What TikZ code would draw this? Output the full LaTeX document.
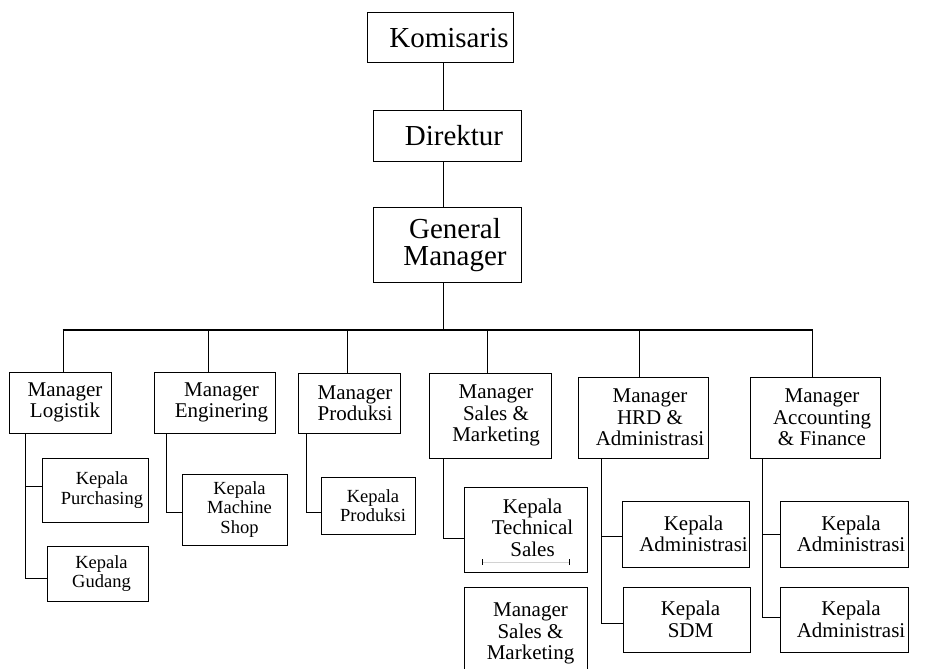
\documentclass[tikz,border=0pt]{standalone}
\usepackage{fontspec}
\setmainfont{Liberation Serif}
\begin{document}
\begin{tikzpicture}[x=1pt,y=-1pt,
  box/.style={draw,line width=1pt,inner sep=0pt},
  lbl/.style={align=center,inner sep=0pt},
  ftop/.style={font=\fontsize{29}{27}\selectfont},
  fmgr/.style={font=\fontsize{21}{21.5}\selectfont},
  fsml/.style={font=\fontsize{18.5}{19.5}\selectfont},
  conn/.style={line width=1pt},
  busline/.style={line width=2.8pt},
]
\useasboundingbox (0,0) rectangle (926,669);
\clip (0,0) rectangle (926,669);

% top chain
\node[box,minimum width=146pt,minimum height=50pt] (kom) at (440,38) {};
\node[lbl,ftop] (kom-t) at ([xshift=9pt]kom.center) {Komisaris};
\node[box,minimum width=148pt,minimum height=51pt] (dir) at (447,135.5) {};
\node[lbl,ftop] (dir-t) at ([xshift=7pt]dir.center) {Direktur};
\node[box,minimum width=148pt,minimum height=75pt] (gm) at (447,244.5) {};
\node[lbl,ftop] (gm-t) at ([xshift=8pt,yshift=-1pt]gm.center) {General\\Manager};

% managers
\node[box,minimum width=102pt,minimum height=61pt] (mlog) at (60,402.5) {};
\node[lbl,fmgr] (mlog-t) at ([xshift=5pt]mlog.center) {Manager\\Logistik};
\node[box,minimum width=121pt,minimum height=61pt] (meng) at (214.5,402.5) {};
\node[lbl,fmgr] (meng-t) at ([xshift=7pt]meng.center) {Manager\\Enginering};
\node[box,minimum width=102pt,minimum height=60pt] (mprod) at (349,403) {};
\node[lbl,fmgr] (mprod-t) at ([xshift=6pt]mprod.center) {Manager\\Produksi};
\node[box,minimum width=122pt,minimum height=85pt] (msales) at (490,415.5) {};
\node[lbl,fmgr] (msales-t) at ([xshift=6pt]msales.center) {Manager\\Sales \&\\Marketing};
\node[box,minimum width=130pt,minimum height=81pt] (mhrd) at (643,417.5) {};
\node[lbl,fmgr] (mhrd-t) at ([xshift=7pt]mhrd.center) {Manager\\HRD \&\\Administrasi};
\node[box,minimum width=130pt,minimum height=81pt] (macc) at (815,417.5) {};
\node[lbl,fmgr] (macc-t) at ([xshift=7pt]macc.center) {Manager\\Accounting\\\& Finance};

% sub units
\node[box,minimum width=106pt,minimum height=64pt] (kpur) at (95,490) {};
\node[lbl,fsml] (kpur-t) at ([xshift=7pt]kpur.center) {Kepala\\Purchasing};
\node[box,minimum width=101pt,minimum height=55pt] (kgud) at (97.5,573.5) {};
\node[lbl,fsml] (kgud-t) at ([xshift=4pt]kgud.center) {Kepala\\Gudang};
\node[box,minimum width=105pt,minimum height=71pt] (kmach) at (234.5,509.5) {};
\node[lbl,fsml] (kmach-t) at ([xshift=5pt]kmach.center) {Kepala\\Machine\\Shop};
\node[box,minimum width=94pt,minimum height=57pt] (kprod) at (368,505.5) {};
\node[lbl,fsml] (kprod-t) at ([xshift=5pt]kprod.center) {Kepala\\Produksi};
\node[box,minimum width=123pt,minimum height=85pt] (ktech) at (525.5,529.5) {};
\node[lbl,fmgr] (ktech-t) at ([xshift=7pt,yshift=2pt]ktech.center) {Kepala\\Technical\\Sales};
\node[box,minimum width=123pt,minimum height=93pt] (msales2) at (525.5,633.5) {};
\node[lbl,fmgr] (msales2-t) at ([xshift=5pt]msales2.center) {Manager\\Sales \&\\Marketing};
\node[box,minimum width=127pt,minimum height=66pt] (kadm1) at (685.5,534) {};
\node[lbl,fmgr] (kadm1-t) at ([xshift=8pt]kadm1.center) {Kepala\\Administrasi};
\node[box,minimum width=127pt,minimum height=65pt] (ksdm) at (686.5,619.5) {};
\node[lbl,fmgr] (ksdm-t) at ([xshift=4pt]ksdm.center) {Kepala\\SDM};
\node[box,minimum width=128pt,minimum height=66pt] (kadm2) at (844,534) {};
\node[lbl,fmgr] (kadm2-t) at ([xshift=7pt]kadm2.center) {Kepala\\Administrasi};
\node[box,minimum width=128pt,minimum height=65pt] (kadm3) at (844,619.5) {};
\node[lbl,fmgr] (kadm3-t) at ([xshift=7pt]kadm3.center) {Kepala\\Administrasi};

% faint artifact line inside Technical Sales box
\draw[gray!35,line width=0.6pt] (482,562) -- (569,562);
\draw[line width=0.6pt] (482,559) -- (482,565) (569,559) -- (569,565);

% top connectors
\draw[conn] ([xshift=3pt]kom.south) -- ([xshift=3pt]kom.south |- dir.north);
\draw[conn] ([xshift=-4pt]dir.south) -- ([xshift=-4pt]dir.south |- gm.north);
\coordinate (busL) at (63,330);
\coordinate (busR) at (812,330);
\draw[conn] ([xshift=-4pt]gm.south) -- ([xshift=-4pt]gm.south |- busL);
\draw[busline] ([xshift=-0.5pt]busL) -- ([xshift=0.5pt]busR);

% drops to managers
\coordinate (d1) at (63,330);
\coordinate (d2) at (208,330);
\coordinate (d3) at (347,330);
\coordinate (d4) at (487,330);
\coordinate (d5) at (639,330);
\coordinate (d6) at (812,330);
\draw[conn] (d1) -- (d1 |- mlog.north);
\draw[conn] (d2) -- (d2 |- meng.north);
\draw[conn] (d3) -- (d3 |- mprod.north);
\draw[conn] (d4) -- (d4 |- msales.north);
\draw[conn] (d5) -- (d5 |- mhrd.north);
\draw[conn] (d6) -- (d6 |- macc.north);

% manager to sub units
\draw[conn] ([xshift=-35pt]mlog.south) |- ([yshift=4pt]kpur.west);
\draw[conn] ([xshift=-35pt]mlog.south) |- ([yshift=-4.5pt]kgud.west);
\draw[conn] ([xshift=-48.5pt]meng.south) |- ([yshift=-2.5pt]kmach.west);
\draw[conn] ([xshift=-43pt]mprod.south) |- ([yshift=-6.5pt]kprod.west);
\draw[conn] ([xshift=-47pt]msales.south) |- ([yshift=-8.5pt]ktech.west);
\draw[conn] ([xshift=-42pt]mhrd.south) |- ([yshift=-2pt]kadm1.west);
\draw[conn] ([xshift=-42pt]mhrd.south) |- ([yshift=-3.5pt]ksdm.west);
\draw[conn] ([xshift=-53pt]macc.south) |- (kadm2.west);
\draw[conn] ([xshift=-53pt]macc.south) |- ([yshift=2.5pt]kadm3.west);
\end{tikzpicture}
\end{document}
